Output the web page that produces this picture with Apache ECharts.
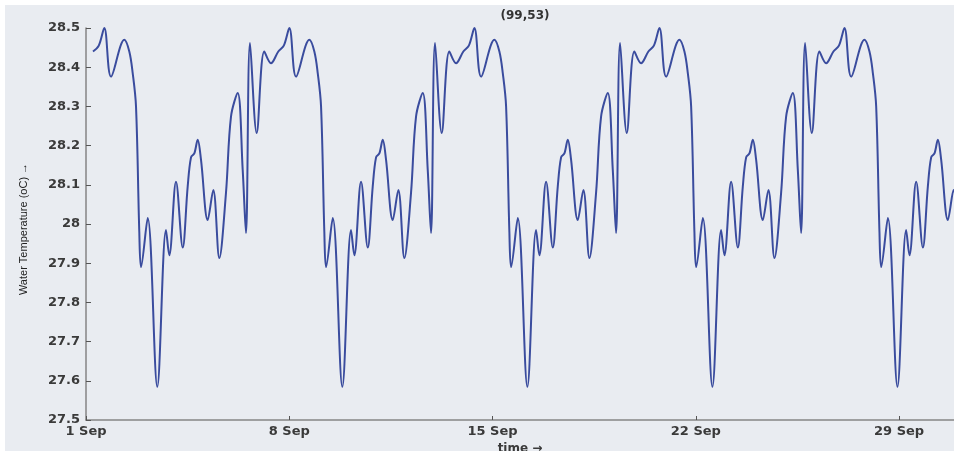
<!DOCTYPE html>
<html>
<head>
<meta charset="utf-8">
<script src="https://cdn.jsdelivr.net/npm/echarts@6/dist/echarts.min.js"></script>
<style>
  html, body { margin: 0; padding: 0; background: #ffffff; }
  #chart { position: absolute; left: 5px; top: 5px; width: 949px; height: 446px; background: #e9ecf1; }
</style>
</head>
<body>
<div id="chart"></div>
<script>
// Water temperature through September; x is days elapsed since 1 Sep 00:00.
const day = [
  0.241, 0.440,
  0.630, 0.861, 1.319, 1.491, 1.608, 1.722, 1.835, 1.894, 2.124, 2.455, 2.755, 2.868, 3.099, 3.330,
  3.502, 3.616, 3.730, 3.846, 3.960, 4.191, 4.383, 4.590, 4.821, 4.993, 5.224, 5.396, 5.509, 5.647,
  5.878, 6.140, 6.370, 6.622, 6.811,
  7.002, 7.233, 7.691, 7.863, 7.980, 8.094, 8.207, 8.266, 8.496, 8.827, 9.127, 9.240, 9.471, 9.702,
  9.874, 9.988, 10.102, 10.218, 10.332, 10.563, 10.755, 10.962, 11.193, 11.365, 11.596, 11.768, 11.881, 12.019,
  12.250, 12.512, 12.742, 12.994, 13.183,
  13.374, 13.605, 14.063, 14.235, 14.352, 14.466, 14.579, 14.638, 14.868, 15.199, 15.499, 15.612, 15.843, 16.074,
  16.246, 16.360, 16.474, 16.590, 16.704, 16.935, 17.127, 17.334, 17.565, 17.737, 17.968, 18.140, 18.253, 18.391,
  18.622, 18.884, 19.114, 19.366, 19.555,
  19.746, 19.977, 20.435, 20.607, 20.724, 20.838, 20.951, 21.010, 21.240, 21.571, 21.871, 21.984, 22.215, 22.446,
  22.618, 22.732, 22.846, 22.962, 23.076, 23.307, 23.499, 23.706, 23.937, 24.109, 24.340, 24.512, 24.625, 24.763,
  24.994, 25.256, 25.486, 25.738, 25.927,
  26.118, 26.349, 26.807, 26.979, 27.096, 27.210, 27.323, 27.382, 27.612, 27.943, 28.243, 28.356, 28.587, 28.818,
  28.990, 29.104, 29.218, 29.334, 29.448, 29.679, 29.871, 30.078
];
const temp = [
  28.44, 28.455,
  28.50, 28.376, 28.47, 28.44, 28.385, 28.30, 27.98, 27.89, 28.015, 27.585, 27.985, 27.92, 28.108, 27.94,
  28.096, 28.17, 28.18, 28.215, 28.164, 28.01, 28.087, 27.913, 28.08, 28.274, 28.334, 28.138, 27.977, 28.462,
  28.232, 28.44, 28.41, 28.44, 28.455,
  28.50, 28.376, 28.47, 28.44, 28.385, 28.30, 27.98, 27.89, 28.015, 27.585, 27.985, 27.92, 28.108, 27.94,
  28.096, 28.17, 28.18, 28.215, 28.164, 28.01, 28.087, 27.913, 28.08, 28.274, 28.334, 28.138, 27.977, 28.462,
  28.232, 28.44, 28.41, 28.44, 28.455,
  28.50, 28.376, 28.47, 28.44, 28.385, 28.30, 27.98, 27.89, 28.015, 27.585, 27.985, 27.92, 28.108, 27.94,
  28.096, 28.17, 28.18, 28.215, 28.164, 28.01, 28.087, 27.913, 28.08, 28.274, 28.334, 28.138, 27.977, 28.462,
  28.232, 28.44, 28.41, 28.44, 28.455,
  28.50, 28.376, 28.47, 28.44, 28.385, 28.30, 27.98, 27.89, 28.015, 27.585, 27.985, 27.92, 28.108, 27.94,
  28.096, 28.17, 28.18, 28.215, 28.164, 28.01, 28.087, 27.913, 28.08, 28.274, 28.334, 28.138, 27.977, 28.462,
  28.232, 28.44, 28.41, 28.44, 28.455,
  28.50, 28.376, 28.47, 28.44, 28.385, 28.30, 27.98, 27.89, 28.015, 27.585, 27.985, 27.92, 28.108, 27.94,
  28.096, 28.17, 28.18, 28.215, 28.164, 28.01, 28.087, 27.913
];
const dateTicks = ['1 Sep', '8 Sep', '15 Sep', '22 Sep', '29 Sep'];
const tempTicks = ['27.5', '27.6', '27.7', '27.8', '27.9', '28', '28.1', '28.2', '28.3', '28.4', '28.5'];

const points = day.map((d, i) => [d, temp[i]]);
const tickFont = { color: '#3a3a3a', fontFamily: 'DejaVu Sans', fontWeight: 'bold', fontSize: 13 };
const axisGray = '#858585';

const chart = echarts.init(document.getElementById('chart'));
chart.setOption({
  backgroundColor: 'transparent',
  animation: false,
  title: {
    text: '(99,53)',
    left: 515, top: 0, textAlign: 'center',
    textStyle: { color: '#333', fontFamily: 'DejaVu Sans', fontWeight: 'bold', fontSize: 12 }
  },
  grid: { left: 81, right: 0, top: 23, bottom: 31, containLabel: false, outerBoundsMode: 'none' },
  xAxis: {
    type: 'value',
    min: 0, max: 29.89, interval: 7,
    name: 'time \u2192',
    nameLocation: 'middle', nameGap: 20,
    nameTextStyle: { ...tickFont, fontSize: 12 },
    axisLine: { lineStyle: { color: axisGray, width: 1.5 } },
    axisTick: { inside: true, length: 4, lineStyle: { color: '#555' } },
    splitLine: { show: false },
    axisLabel: {
      ...tickFont, margin: 5, showMaxLabel: false,
      formatter: v => dateTicks[Math.round(v / 7)] || ''
    }
  },
  yAxis: {
    type: 'value',
    min: 27.5, max: 28.5, interval: 0.1,
    name: 'Water Temperature (oC) \u2192',
    nameLocation: 'middle', nameGap: 57, nameRotate: 90,
    nameTextStyle: { color: '#222', fontFamily: 'Liberation Sans', fontSize: 11, padding: [0, 10, 0, 0] },
    axisLine: { show: true, lineStyle: { color: axisGray, width: 1.5 } },
    axisTick: { show: true, inside: true, length: 5, lineStyle: { color: '#555' } },
    splitLine: { show: false },
    axisLabel: {
      ...tickFont, margin: 6,
      formatter: v => tempTicks[Math.round((v - 27.5) * 10)]
    }
  },
  series: [{
    type: 'line',
    data: points,
    smooth: 0.35,
    showSymbol: false,
    lineStyle: { color: '#3a4c9e', width: 2 }
  }]
});
</script>
</body>
</html>
